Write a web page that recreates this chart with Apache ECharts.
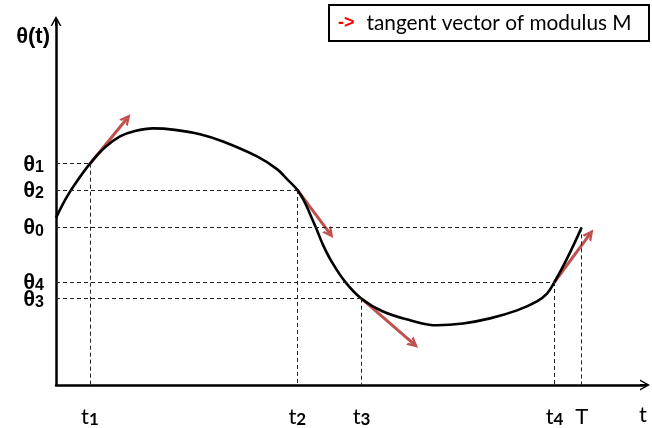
<!DOCTYPE html>
<html>
<head>
<meta charset="utf-8">
<style>
  html, body { margin: 0; padding: 0; background: #ffffff; }
  #chart { width: 652px; height: 428px; }
</style>
<script src="https://cdn.jsdelivr.net/npm/echarts@6/dist/echarts.min.js"></script>
</head>
<body>
<div id="chart"></div>
<script>
// Trajectory θ(t), sampled along the curve
const curveT = [0.0, 0.153, 0.323, 0.577, 0.832, 1.087, 1.341, 1.647, 2.020, 2.445, 2.835, 3.413, 3.752, 3.939,
                4.097, 4.211, 4.312, 4.414, 4.533, 4.669, 4.907, 5.187, 5.552, 6.010, 6.469, 6.910, 7.368,
                7.827, 8.166, 8.336, 8.464, 8.676, 8.925];
const curveTheta = [4.59, 5.08, 5.52, 6.08, 6.53, 6.83, 6.98, 7.05, 7.01, 6.89, 6.69, 6.28, 5.93, 5.63,
                    5.36, 5.06, 4.70, 4.32, 3.85, 3.42, 2.84, 2.37, 2.02, 1.78, 1.64, 1.69, 1.83,
                    2.05, 2.30, 2.51, 2.83, 3.47, 4.33];

// Marked instants and the matching angle levels
const markTLabels = ['1', '2', '3', '4', 'T'];
const markThetaLabels = ['1', '2', '3', '4', '0'];
const markT = [0.577, 4.097, 5.187, 8.464, 8.925];
const markTheta = [6.08, 5.36, 2.37, 2.83, 4.33];

// Tangent vectors drawn at t1..t4
const vecDt = [0.628, 0.555, 0.891, 0.603];
const vecDtheta = [1.243, -1.202, -1.249, 1.320];

const legendArrow = '->';
const legendText = 'tangent vector of modulus M';
const yAxisName = 'θ(t)';
const xAxisName = 't';

const BLACK = '#000000';
const RED = '#c0504d';
const SANS = 'Liberation Sans';
const HUMAN = 'Lato';

// Open arrow head with a short stem, pointing up
const axisArrow = 'path://M0,10 L5.5,0 L11,10 L9.4,10 L5.5,2.9 L1.6,10 Z M4.6,1.5 L6.4,1.5 L6.4,10 L4.6,10 Z';
const vecArrow = 'path://M0,10 L5,0 L10,10 L7.6,10 L5,4.6 L2.4,10 Z';

function nearestIndex(arr, v) {
  let best = 0;
  for (let i = 1; i < arr.length; i++) {
    if (Math.abs(arr[i] - v) < Math.abs(arr[best] - v)) best = i;
  }
  return best;
}

// Dashed guides: horizontal from the θ axis, vertical down to the t axis
const guideLines = [];
markT.forEach((t, i) => {
  guideLines.push([{ coord: [0, markTheta[i]] }, { coord: [t, markTheta[i]] }]);
  guideLines.push([{ coord: [t, markTheta[i]] }, { coord: [t, 0] }]);
});

const vectorData = vecDt.map((dt, i) => ({
  coords: [[markT[i], markTheta[i]], [markT[i] + dt, markTheta[i] + vecDtheta[i]]]
}));

const chart = echarts.init(document.getElementById('chart'), null, { renderer: 'canvas' });

chart.setOption({
  animation: false,
  backgroundColor: '#ffffff',
  grid: { left: 56, right: 7, top: 21, bottom: 41 },
  xAxis: {
    type: 'value',
    min: 0,
    max: 10,
    name: xAxisName,
    nameLocation: 'end',
    nameGap: -2,
    nameTextStyle: {
      fontFamily: HUMAN, fontSize: 22, color: BLACK,
      align: 'center', verticalAlign: 'top', padding: [19, 0, 0, 0]
    },
    axisLine: {
      show: true,
      lineStyle: { color: BLACK, width: 2.5 },
      symbol: ['none', axisArrow],
      symbolSize: [11, 10]
    },
    axisTick: { show: false },
    splitLine: { show: false },
    axisLabel: {
      show: true,
      customValues: markT,
      margin: 19,
      formatter: function (v) {
        const s = markTLabels[nearestIndex(markT, v)];
        return s === 'T' ? '{t|T}' : '{t|t}{d|' + s + '}';
      },
      rich: {
        t: { fontFamily: HUMAN, fontSize: 22, color: BLACK, lineHeight: 24, verticalAlign: 'bottom' },
        d: { fontFamily: HUMAN, fontSize: 17, fontWeight: 'bold', color: BLACK, lineHeight: 24, verticalAlign: 'bottom' }
      }
    }
  },
  yAxis: {
    type: 'value',
    min: 0,
    max: 10,
    name: yAxisName,
    nameLocation: 'end',
    nameGap: -16,
    nameTextStyle: {
      fontFamily: SANS, fontSize: 22, fontWeight: 'bold', color: BLACK,
      align: 'right', verticalAlign: 'middle', padding: [0, 6, 0, 0]
    },
    axisLine: {
      show: true,
      lineStyle: { color: BLACK, width: 2.5 },
      symbol: ['none', axisArrow],
      symbolSize: [11, 10]
    },
    axisTick: { show: false },
    splitLine: { show: false },
    axisLabel: {
      show: true,
      customValues: markTheta,
      margin: 12,
      formatter: function (v) {
        return '{th|θ}{d|' + markThetaLabels[nearestIndex(markTheta, v)] + '}';
      },
      rich: {
        th: { fontFamily: SANS, fontSize: 22, fontWeight: 'bold', color: BLACK, lineHeight: 24, verticalAlign: 'bottom' },
        d: { fontFamily: SANS, fontSize: 16, fontWeight: 'bold', color: BLACK, lineHeight: 24, verticalAlign: 'bottom' }
      }
    }
  },
  series: [
    {
      type: 'line',
      data: curveT.map((t, i) => [t, curveTheta[i]]),
      smooth: 0.4,
      symbol: 'none',
      lineStyle: { color: BLACK, width: 2.6 },
      z: 3,
      markLine: {
        silent: true,
        symbol: ['none', 'none'],
        label: { show: false },
        lineStyle: { color: '#222222', width: 1, type: [4, 3] },
        emphasis: { disabled: true },
        data: guideLines
      }
    },
    {
      type: 'lines',
      coordinateSystem: 'cartesian2d',
      silent: true,
      z: 2,
      symbol: ['none', vecArrow],
      symbolSize: [12, 11],
      lineStyle: { color: RED, width: 3, opacity: 1, curveness: 0 },
      data: vectorData
    }
  ],
  graphic: [
    {
      type: 'rect',
      silent: true,
      shape: { x: 329, y: 5, width: 320, height: 36 },
      style: { fill: '#ffffff', stroke: BLACK, lineWidth: 2 }
    },
    {
      type: 'text',
      silent: true,
      x: 338,
      y: 23,
      style: {
        text: '{r|' + legendArrow + '}{g| }{t|' + legendText + '}',
        verticalAlign: 'middle',
        rich: {
          r: { fontFamily: SANS, fontSize: 18, fontWeight: 'bold', fill: '#ff0000' },
          g: { fontSize: 18, width: 12 },
          t: { fontFamily: HUMAN, fontSize: 20.8, fill: BLACK }
        }
      }
    }
  ]
});
</script>
</body>
</html>
